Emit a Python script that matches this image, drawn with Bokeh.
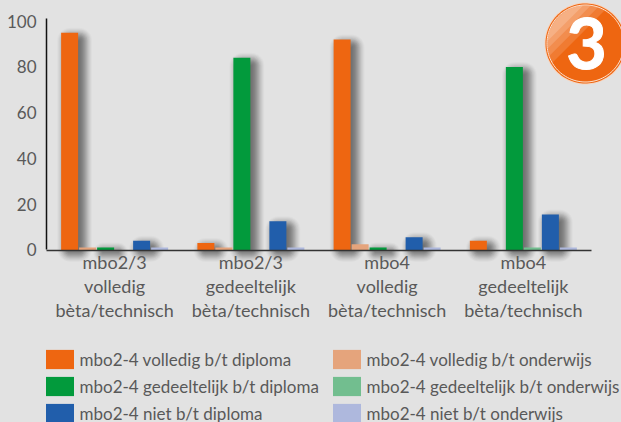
import numpy as np
from bokeh.embed import file_html
from bokeh.resources import INLINE
from bokeh.plotting import figure
from bokeh.models import LinearAxis, FixedTicker, Legend, LegendItem, Range1d
from bokeh.core.properties import value

categories = ["mbo2/3\nvolledig\nbèta/technisch", "mbo2/3\ngedeeltelijk\nbèta/technisch",
              "mbo4\nvolledig\nbèta/technisch", "mbo4\ngedeeltelijk\nbèta/technisch"]
volledig_diploma = [95, 3, 92, 4]
volledig_onderwijs = [1, 1, 2.5, 0]
gedeeltelijk_diploma = [1, 84, 1, 80]
gedeeltelijk_onderwijs = [0, 0, 0, 1]
niet_diploma = [4, 12.5, 5.5, 15.5]
niet_onderwijs = [1, 1, 1, 1]
y_ticks = [0, 20, 40, 60, 80, 100]

series = [
    ("mbo2-4 volledig b/t diploma", volledig_diploma, "#EE6611", True),
    ("mbo2-4 volledig b/t onderwijs", volledig_onderwijs, "#E5A47C", False),
    ("mbo2-4 gedeeltelijk b/t diploma", gedeeltelijk_diploma, "#029A3C", True),
    ("mbo2-4 gedeeltelijk b/t onderwijs", gedeeltelijk_onderwijs, "#72BE8F", False),
    ("mbo2-4 niet b/t diploma", niet_diploma, "#215EAB", True),
    ("mbo2-4 niet b/t onderwijs", niet_onderwijs, "#AEB8DD", False),
]

W, H = 621, 422
BG = "#E2E2E2"
TXT = "#595959"
FONT = "Lato"
X0, GROUP = 46.0, 136.25     # px of category start, px per category
Y0, UNIT = 249.4, 2.287      # px of value 0, px per value unit

p = figure(width=W, height=H, output_backend="svg", toolbar_location=None,
           x_range=Range1d(-X0 / GROUP, (W - X0) / GROUP),
           y_range=Range1d((Y0 - H) / UNIT, Y0 / UNIT),
           x_axis_type=None, y_axis_type=None,
           min_border=0, min_border_left=0, min_border_right=0, min_border_top=0, min_border_bottom=0)
p.background_fill_color = BG
p.border_fill_color = BG
p.outline_line_color = None
p.grid.visible = False


def xpx(px):
    return px / GROUP


def ypx(px):
    return px / UNIT


centres = np.arange(4) + 0.5
bar_w = xpx(17)
step = xpx(18)

# soft drop shadows: stacked translucent rounded rectangles behind the diploma bars
spread = np.linspace(-4, 9, 14)
weights = 0.06 * np.exp(-((spread - 2.0) / 6.0) ** 2) + 0.006
for e, a in zip(spread[::-1], weights[::-1]):
    for j, (_, vals, _, shadow) in enumerate(series):
        if not shadow:
            continue
        v = np.array(vals, dtype=float)
        tops = v - ypx(4) + ypx(e)
        bottoms = np.full(4, -ypx(3) - ypx(e))
        keep = tops > bottoms
        xs = centres + (j - 2.5) * step + xpx(5)
        p.vbar(x=xs[keep], width=bar_w + xpx(2 * e), top=tops[keep], bottom=bottoms[keep],
               fill_color="black", fill_alpha=float(a), line_color=None,
               border_radius=int(max(0, e + 4)))

renderers = []
for j, (_, vals, col, _) in enumerate(series):
    xs = centres + (j - 2.5) * step
    renderers.append(p.vbar(x=xs, width=bar_w, top=vals, bottom=0, fill_color=col, line_color=None))

# axes
xax = LinearAxis(fixed_location=-0.15, bounds=(0, 4),
                 ticker=FixedTicker(ticks=list(centres)),
                 major_label_overrides={float(c): t for c, t in zip(centres, categories)})
xax.axis_line_color = "#333333"
xax.axis_line_width = 1.6
xax.major_tick_line_color = None
xax.minor_tick_line_color = None
xax.major_label_standoff = -5
xax.major_label_text_font = FONT
xax.major_label_text_font_size = "18px"
xax.major_label_text_color = TXT
xax.major_label_text_line_height = 1.08
p.add_layout(xax, "below")

yax = LinearAxis(fixed_location=0, bounds=(0, 101), ticker=FixedTicker(ticks=y_ticks))
yax.axis_line_color = "#111111"
yax.axis_line_width = 1.5
yax.major_tick_line_color = None
yax.minor_tick_line_color = None
yax.major_label_standoff = 4
yax.major_label_text_font = FONT
yax.major_label_text_font_size = "17px"
yax.major_label_text_color = TXT
p.add_layout(yax, "left")

# legend, column by column
order = [0, 2, 4, 1, 3, 5]
legend = Legend(items=[LegendItem(label=series[k][0], renderers=[renderers[k]]) for k in order],
                ncols=2, location=(41.5, -3), orientation="vertical",
                glyph_width=35, glyph_height=24, spacing=3, margin=0, padding=5,
                label_standoff=3, label_text_font=FONT, label_text_font_size="17px",
                label_text_color=TXT, background_fill_alpha=0, border_line_color=None,
                label_height=20, label_width=246)
p.add_layout(legend)

# numbered badge, positioned in pixels converted to data space
bx, by, br = 585.0, 43.0, 41.0


def dx(a):
    return (a - X0) / GROUP


def dy(a):
    return (Y0 - a) / UNIT


th = np.linspace(0, 2 * np.pi, 120)


def ring(r):
    return dx(bx + r * np.cos(th)), dy(by + r * np.sin(th))


p.patch(*ring(br), fill_color="#F6D5C0", line_color=None)
p.patch(*ring(br - 1), fill_color="#EE6611", line_color=None)
rx, ry = ring(br - 2.5)
p.line(rx, ry, line_color="#FBE3D3", line_width=1)

# glossy highlight in the upper left
for shift, alpha in [(0, 0.14), (7, 0.14), (14, 0.16), (21, 0.18)]:
    ang = np.radians(np.linspace(150 + shift * 1.6, 300 - shift * 1.6, 50))
    gx = bx + (br - 3) * np.cos(ang)
    gy = by + (br - 3) * np.sin(ang)
    p.patch(dx(gx), dy(gy), fill_color="white", fill_alpha=alpha, line_color=None)

p.text(x=[dx(bx + 1)], y=[dy(by)], text=["3"], text_font=value("Lato"), text_font_style="bold",
       text_font_size="70px", text_color="white", text_align="center", text_baseline="middle",
       text_outline_color="white")

html = file_html(p, INLINE)
html = html.replace("<head>", f"<head><style>html,body{{margin:0;padding:0;background:{BG};overflow:hidden}}</style>", 1)
open("out.html", "w").write(html)
